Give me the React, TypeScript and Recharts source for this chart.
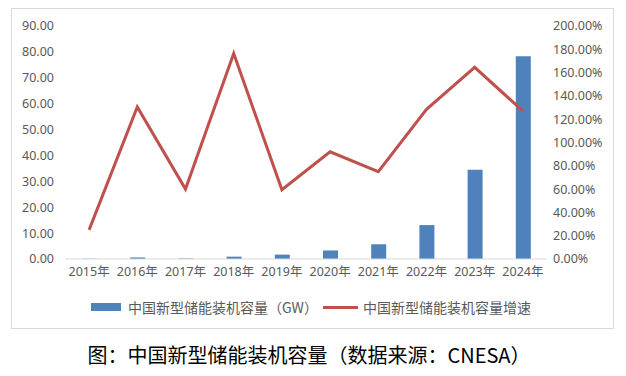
import React from 'react';
import { ComposedChart, Bar, Line, XAxis, YAxis } from 'recharts';

const years = ['2015年', '2016年', '2017年', '2018年', '2019年', '2020年', '2021年', '2022年', '2023年', '2024年'];
const capacityGW = [0.1, 0.6, 0.2, 0.9, 1.7, 3.3, 5.7, 13.1, 34.5, 78.3];
const growthPct = [25, 130.5, 60, 176.5, 59.5, 92, 75, 128.5, 164.5, 127];
const leftTicks = [0, 10, 20, 30, 40, 50, 60, 70, 80, 90];
const rightTicks = [0, 20, 40, 60, 80, 100, 120, 140, 160, 180, 200];
const barName = '中国新型储能装机容量（GW）';
const lineName = '中国新型储能装机容量增速';
const caption = '图：中国新型储能装机容量（数据来源：CNESA）';

const data = years.map((y, i) => ({ year: y, cap: capacityGW[i], growth: growthPct[i] }));

const BLUE = '#4F81BD';
const RED = '#C0504D';
const GREY = '#595959';
const tickFont = { fontFamily: '"Noto Sans", "Noto Sans CJK SC", sans-serif', fontSize: 12.5, fill: GREY };

export default function App() {
  return (
    <div style={{ position: 'relative', width: 610, height: 360 }}>
      <div
        style={{
          position: 'absolute',
          left: 3,
          top: 0,
          width: 601,
          height: 319,
          border: '1px solid #d9d9d9',
          background: '#fff',
        }}
      />
      <div style={{ position: 'absolute', left: 3, top: 0 }}>
        <ComposedChart
          width={603}
          height={321}
          data={data}
          margin={{ top: 18, right: 0, left: 0, bottom: 40 }}
        >
          <XAxis
            dataKey="year"
            height={30}
            tickLine={false}
            axisLine={{ stroke: '#d9d9d9', strokeWidth: 1 }}
            tick={tickFont}
            tickSize={4}
            tickMargin={4}
            interval={0}
          />
          <YAxis
            yAxisId="left"
            width={54}
            domain={[0, 90]}
            ticks={leftTicks}
            tickFormatter={(v: number) => v.toFixed(2)}
            axisLine={false}
            tickLine={false}
            tickSize={8}
            tickMargin={3}
            tick={tickFont}
            interval={0}
          />
          <YAxis
            yAxisId="right"
            orientation="right"
            width={67}
            domain={[0, 200]}
            ticks={rightTicks}
            tickFormatter={(v: number) => v.toFixed(2) + '%'}
            axisLine={false}
            tickLine={false}
            tickSize={4}
            tickMargin={2}
            tick={tickFont}
            interval={0}
          />
          <Bar yAxisId="left" dataKey="cap" name={barName} fill={BLUE} barSize={15} isAnimationActive={false} />
          <Line
            yAxisId="right"
            dataKey="growth"
            name={lineName}
            stroke={RED}
            strokeWidth={3}
            dot={false}
            activeDot={false}
            type="linear"
            isAnimationActive={false}
          />
        </ComposedChart>
      </div>
      {/* legend */}
      <div style={{ position: 'absolute', left: 83, top: 295, width: 30, height: 8, background: BLUE }} />
      <div
        style={{
          position: 'absolute',
          left: 120,
          top: 289,
          fontFamily: '"Noto Sans CJK SC", sans-serif',
          fontSize: 14,
          lineHeight: '20px',
          color: GREY,
          whiteSpace: 'nowrap',
        }}
      >
        {barName}
      </div>
      <div style={{ position: 'absolute', left: 315, top: 298, width: 35, height: 3, background: RED }} />
      <div
        style={{
          position: 'absolute',
          left: 355,
          top: 289,
          fontFamily: '"Noto Sans CJK SC", sans-serif',
          fontSize: 14,
          lineHeight: '20px',
          color: GREY,
          whiteSpace: 'nowrap',
        }}
      >
        {lineName}
      </div>
      {/* caption */}
      <div
        style={{
          position: 'absolute',
          left: 0,
          top: 333,
          width: 602,
          textAlign: 'center',
          fontFamily: '"Noto Sans CJK SC", sans-serif',
          fontSize: 20,
          lineHeight: '28px',
          color: '#000',
          whiteSpace: 'nowrap',
        }}
      >
        {caption}
      </div>
    </div>
  );
}
